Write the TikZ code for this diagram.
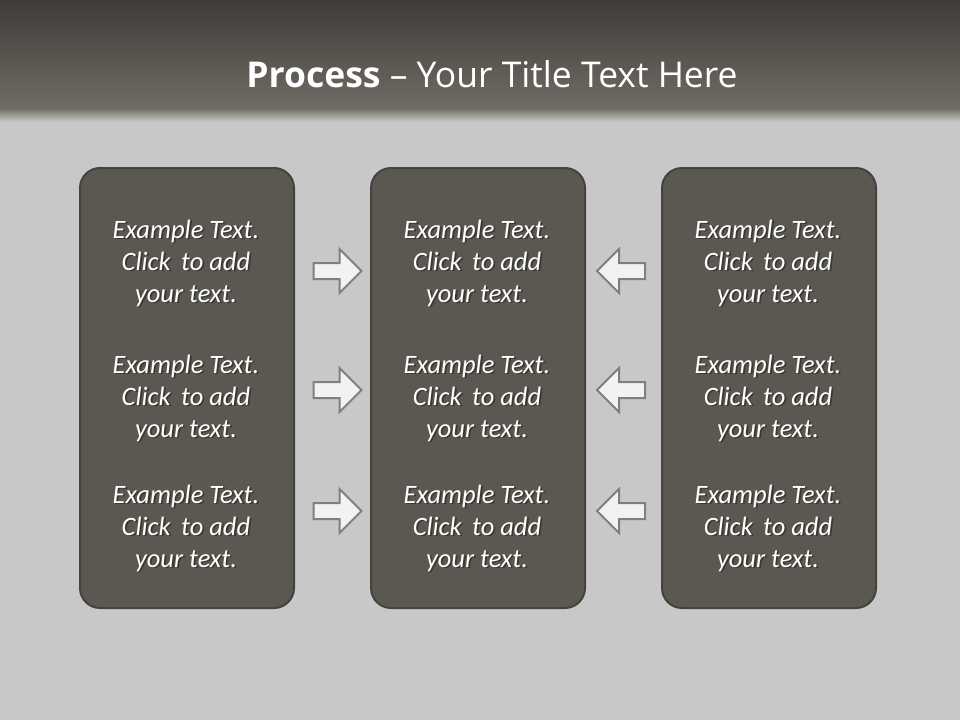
\documentclass[tikz,border=0pt]{standalone}
\usepackage{fontspec}
\setmainfont{Open Sans}
\newfontfamily\bodyfont{Carlito}
\usetikzlibrary{shapes.arrows}
\definecolor{bgc}{HTML}{C9C8C8}
\definecolor{bandtop}{HTML}{3E3C37}
\definecolor{bandbot}{HTML}{6F6C65}
\definecolor{boxfill}{HTML}{5B5851}
\definecolor{boxline}{HTML}{45433E}
\definecolor{arrfill}{HTML}{F2F2F2}
\definecolor{arrline}{HTML}{7F7F7F}
\definecolor{shadowc}{HTML}{2E2C28}
\tikzset{
  panel/.style={draw=boxline, line width=2pt, fill=boxfill, rounded corners=20pt,
    minimum width=214pt, minimum height=440pt, inner sep=0pt},
  label/.style={text=white, align=center, inner sep=0pt,
    font=\bodyfont\itshape\fontsize{26.5}{32}\selectfont},
  labelshadow/.style={label, text=shadowc, opacity=0.7},
  blockarrow/.style={single arrow, draw=arrline, line width=2pt, fill=arrfill,
    minimum height=48pt, inner sep=7pt, single arrow head extend=14pt,
    single arrow tip angle=90},
  leftarrow/.style={blockarrow, shape border rotate=180}
}
\begin{document}
\begin{tikzpicture}[x=1pt,y=-1pt]
\useasboundingbox (0,0) rectangle (960,720);
\fill[bgc] (0,0) rectangle (960,720);
\shade[top color=bandtop, bottom color=bandbot] (0,0) rectangle (960,108);
\shade[top color=bandbot, bottom color=bgc] (0,108) rectangle (960,122);
\node[text=white, font=\fontsize{35.5}{42}\selectfont, anchor=base] (title) at (492,87)
  {\textbf{Process} – Your Title Text Here};
\node[panel] (b1) at (187,388) {};
\node[panel] (b2) at (478,388) {};
\node[panel] (b3) at (769,388) {};
\foreach \bx/\x in {1/186,2/477,3/768}{
  \foreach \r/\y in {a/263,b/398,c/528}{
    \node[labelshadow] (s\bx\r) at (\x+1.8,\y+1.8) {Example Text.\\Click\, to add\\your text.};
    \node[label] (t\bx\r) at (\x,\y) {Example Text.\\Click\, to add\\your text.};
  }
}
\foreach \r/\y in {a/271,b/390,c/511}{
  \node[blockarrow] (ra\r) at (333.5,\y) {};
  \node[leftarrow] (la\r) at (625,\y) {};
}
\end{tikzpicture}
\end{document}
